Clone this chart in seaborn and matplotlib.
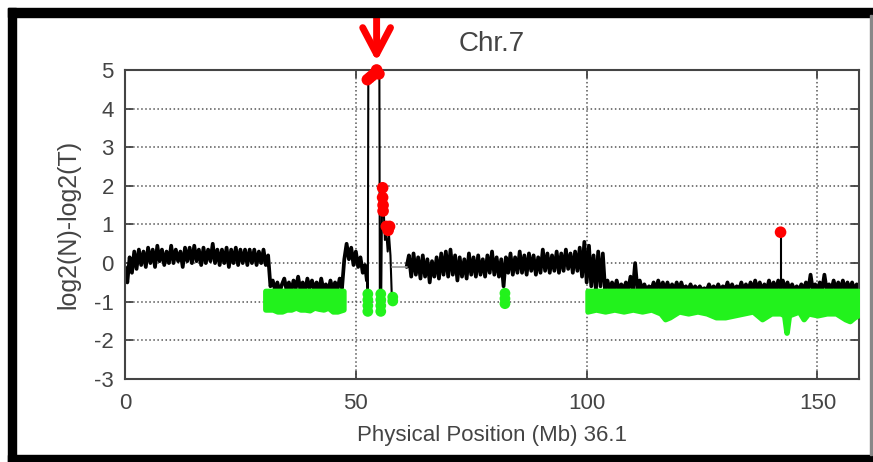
import numpy as np
import pandas as pd
import matplotlib
matplotlib.use("Agg")
import matplotlib.pyplot as plt
import seaborn as sns
from matplotlib.patches import Rectangle

# ---- data (Mb, log2 ratio) ----
step = 0.5

segA_start = 0.0
segA = [-0.1, -0.5, 0.15, -0.25, 0.3, -0.15, 0.35, -0.05, 0.3, -0.1,
        0.4, 0.0, 0.35, -0.1, 0.45, 0.05, 0.35, -0.05, 0.3, 0.0,
        0.45, 0.0, 0.35, 0.05, 0.3, -0.1, 0.4, 0.05, 0.4, 0.0,
        0.45, 0.05, 0.35, -0.05, 0.4, 0.0, 0.35, 0.05, 0.5, 0.0,
        0.35, -0.05, 0.35, 0.0, 0.4, -0.1, 0.35, 0.0, 0.4, -0.05,
        0.35, 0.0, 0.35, -0.05, 0.35, 0.0, 0.35, -0.05, 0.3, 0.0,
        0.35, -0.05, 0.2]

segB_start = 31.5
segB = [-0.6, -0.45, -0.7, -0.5, -0.75, -0.55, -0.4, -0.7, -0.5, -0.75,
        -0.45, -0.65, -0.35, -0.7, -0.5, -0.75, -0.4, -0.65, -0.45, -0.7,
        -0.5, -0.75, -0.4, -0.7, -0.55, -0.75, -0.45, -0.7, -0.5, -0.7,
        -0.4, -0.65]

segC_start = 47.5
segC = [0.1, 0.5, 0.1, 0.4, -0.05, 0.3, -0.1, 0.15, -0.25, -0.05]

# amplicon region around EGFR, irregular spacing
spike_pos = [52.4, 52.6, 52.7, 53.2, 53.8, 54.3, 54.8, 55.1, 55.2, 55.5,
             55.7, 55.9, 56.1, 56.3, 56.6, 56.9, 57.2, 57.5, 57.8]
spike_val = [-0.45, -0.9, 4.75, 4.8, 4.85, 4.95, 5.0, 4.9, -0.9, -0.8,
             1.9, 1.5, 1.2, 0.6, 0.8, 0.3, 0.7, 0.2, -0.9]

gap_pos = [57.9, 61.0]
gap_val = [-0.1, -0.1]

segD_start = 61.0
segD = [-0.1, 0.2, -0.35, 0.25, -0.3, 0.15, -0.4, 0.2, -0.35, 0.1,
        -0.5, 0.05, -0.35, 0.15, -0.4, 0.25, -0.3, 0.3, -0.35, 0.35,
        -0.3, 0.2, -0.45, 0.15, -0.35, 0.1, -0.4, 0.25, -0.3, 0.15,
        -0.35, 0.2, -0.3, 0.1, -0.35, 0.2, -0.25, 0.3, -0.3, 0.15,
        -0.35, 0.1, -0.6, 0.15, -0.25, 0.25, -0.3, 0.15, -0.25, 0.3,
        -0.25, 0.2, -0.3, 0.25, -0.2, 0.2, -0.3, 0.15, -0.25, 0.35,
        -0.2, 0.25, -0.25, 0.2, -0.2, 0.3, -0.25, 0.25, -0.2, 0.35,
        -0.15, 0.25, -0.25, 0.3, -0.2, 0.4, -0.35, 0.55, -0.5]

segE_start = 100.5
segE = [0.45, -0.6, 0.2, -0.7, 0.3, -0.6, 0.25, -0.7, -0.45, -0.7,
        -0.5, -0.7, -0.45, -0.7, -0.55, -0.7, -0.5, -0.7, -0.35, -0.7,
        0.0, -0.7, -0.45, -0.7, -0.55, -0.7, -0.6, -0.7, -0.5, -0.7,
        -0.45, -0.7, -0.5, -0.7, -0.5, -0.7, -0.55, -0.7, -0.5, -0.7,
        -0.5, -0.7, -0.6, -0.7, -0.55, -0.7, -0.6, -0.7, -0.6, -0.7,
        -0.65, -0.7, -0.55, -0.7, -0.6, -0.7, -0.55, -0.7, -0.6, -0.7,
        -0.5, -0.7, -0.55, -0.7, -0.6, -0.7, -0.5, -0.7, -0.55, -0.7,
        -0.5, -0.7, -0.45, -0.7, -0.5, -0.7, -0.55, -0.7, -0.45, -0.7,
        -0.5, -0.7, -0.45, -0.7, -0.45, -0.7, -0.5, -0.7, -0.55, -0.7,
        -0.6, -0.7, -0.55, -0.7, -0.5, -0.7, -0.3, -0.7, -0.55, -0.7,
        -0.5, -0.7, -0.3, -0.7, -0.55, -0.7, -0.45, -0.7, -0.5, -0.7,
        -0.45, -0.7, -0.5, -0.7, -0.5, -0.7, -0.55, -0.7]

# single high probe at ~142 Mb (thin stem)
stem_pos = [142.0, 142.0]
stem_val = [-0.6, 0.8]

# loss bands (green), top edge and lower edge
loss_top = -0.72
lossB_pos = [30.4, 32, 33, 34, 35, 36, 37, 38, 39, 40, 41, 42, 43, 44, 45, 46, 47.3]
lossB_bot = [-1.2, -1.2, -1.25, -1.25, -1.2, -1.2, -1.15, -1.2, -1.2, -1.22,
             -1.15, -1.18, -1.2, -1.15, -1.25, -1.25, -1.2]
lossE_pos = [100.2, 102, 104, 106, 108, 110, 112, 114, 116, 117,
             118, 120, 122, 124, 126, 128, 130, 132, 134, 136,
             138, 140, 142, 142.8, 143.3, 143.8, 146, 147, 148, 150,
             152, 154, 156, 157, 158, 158.8]
lossE_bot = [-1.25, -1.2, -1.25, -1.2, -1.25, -1.2, -1.25, -1.2, -1.3, -1.45,
             -1.4, -1.25, -1.3, -1.25, -1.3, -1.4, -1.4, -1.35, -1.3, -1.25,
             -1.45, -1.3, -1.3, -1.35, -1.8, -1.35, -1.25, -1.45, -1.3, -1.35,
             -1.3, -1.3, -1.45, -1.5, -1.4, -1.35]

blob_pos = [52.6, 52.6, 52.6, 52.6, 55.4, 55.4, 55.4, 55.4, 58.0, 58.0, 82.3, 82.3, 82.3]
blob_val = [-0.8, -0.95, -1.1, -1.25, -0.8, -0.95, -1.1, -1.25, -0.88, -0.98, -0.78, -0.92, -1.05]

gain_pos = [52.5, 53.0, 53.5, 54.0, 54.5, 55.0, 55.8, 55.8, 55.9, 55.9, 56.6, 57.0, 57.3, 142.0]
gain_val = [4.75, 4.8, 4.85, 4.9, 5.0, 4.9, 1.95, 1.7, 1.5, 1.35, 0.95, 0.85, 0.95, 0.8]

xticks = [0, 50, 100, 150]
yticks = [-3, -2, -1, 0, 1, 2, 3, 4, 5]


def grid_seg(start, vals):
    return pd.DataFrame({"pos": start + step * np.arange(len(vals)), "val": vals})


spike = pd.DataFrame({"pos": spike_pos, "val": spike_val})
part1 = pd.concat([grid_seg(segA_start, segA), grid_seg(segB_start, segB),
                   grid_seg(segC_start, segC), spike.iloc[:1]], ignore_index=True)
part2 = pd.concat([grid_seg(segD_start, segD), grid_seg(segE_start, segE)], ignore_index=True)

sns.set_style("ticks")
plt.rcParams["font.family"] = ["Liberation Sans", "DejaVu Sans"]
txt = "#444444"

fig = plt.figure(figsize=(8.73, 4.62), dpi=100)
ax = fig.add_axes([0.1432, 0.1797, 0.8408, 0.6688])

# dense noisy probe trace, thin lines for the amplicon spikes
sns.lineplot(data=part1, x="pos", y="val", sort=False, estimator=None,
             color="black", lw=2.7, ax=ax, zorder=2)
sns.lineplot(data=part2, x="pos", y="val", sort=False, estimator=None,
             color="black", lw=2.7, ax=ax, zorder=2)
sns.lineplot(data=spike, x="pos", y="val", sort=False, estimator=None,
             color="black", lw=1.5, ax=ax, zorder=2)
ax.plot(stem_pos, stem_val, color="black", lw=1.5, zorder=2)
ax.plot(gap_pos, gap_val, color="#999999", lw=1.2, zorder=2)

green = "#22f21c"
for p, b in [(lossB_pos, lossB_bot), (lossE_pos, lossE_bot)]:
    ax.fill_between(p, loss_top, b, color=green, edgecolor=green, lw=4,
                    joinstyle="round", zorder=3)
sns.scatterplot(x=blob_pos, y=blob_val, color=green, s=60, edgecolor="none",
                ax=ax, zorder=3)
sns.scatterplot(x=gain_pos, y=gain_val, color="red", s=70, edgecolor="none",
                ax=ax, zorder=4, clip_on=False)

ax.set_xlim(0, 159)
ax.set_ylim(-3, 5)
ax.set_xticks(xticks)
ax.set_yticks(yticks)
ax.set_yticklabels([str(t) for t in yticks])
ax.grid(True, linestyle=":", color="#555555", lw=1.1)
ax.tick_params(direction="in", top=True, right=True, length=6, width=1.3,
               colors=txt, labelsize=16)
ax.tick_params(axis="x", pad=10)
ax.tick_params(axis="y", pad=8)
for s in ax.spines.values():
    s.set_color("#444444")
    s.set_linewidth(1.5)

ax.set_title("Chr.7", fontsize=20, color=txt, pad=14)
ax.set_xlabel("Physical Position (Mb) 36.1", fontsize=16, color=txt, labelpad=8)
ax.set_ylabel("log2(N)-log2(T)", fontsize=18, color=txt, labelpad=10)

# red arrow pointing at the amplicon
ax.annotate("", xy=(54.5, 5.22), xytext=(54.5, 6.4), annotation_clip=False,
            arrowprops=dict(arrowstyle="->,head_length=0.95,head_width=0.5",
                            lw=5, color="red", mutation_scale=20,
                            shrinkA=0, shrinkB=0))

# black frame around the picture
W, H = 873.0, 462.0
fig.add_artist(Rectangle((8 / W, 0), 8 / W, 454 / H, transform=fig.transFigure, color="black"))
fig.add_artist(Rectangle((8 / W, (H - 17) / H), 1 - 8 / W, 9 / H, transform=fig.transFigure, color="black"))
fig.add_artist(Rectangle((8 / W, 0), 1 - 8 / W, 7 / H, transform=fig.transFigure, color="black"))
fig.add_artist(Rectangle((870 / W, 7 / H), 1.5 / W, 440 / H, transform=fig.transFigure, color="#888888"))

fig.savefig("out.png", dpi=100)
